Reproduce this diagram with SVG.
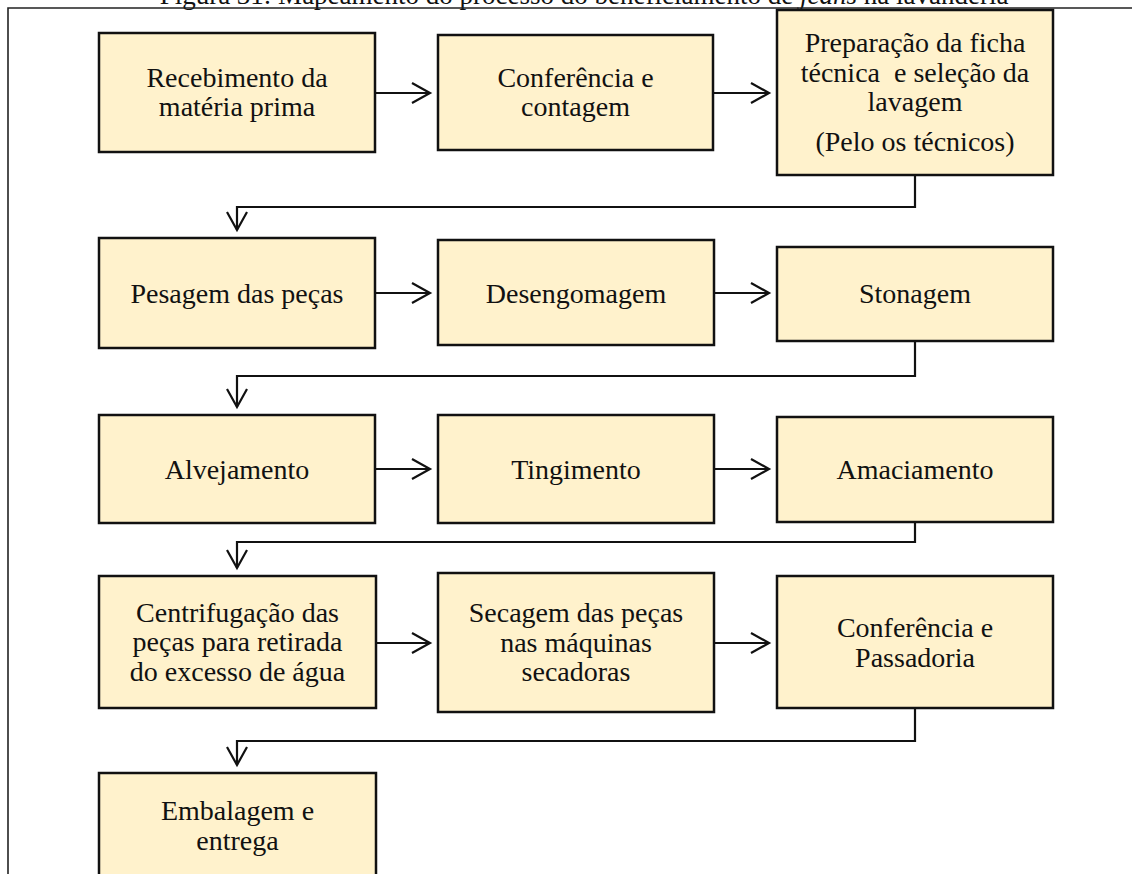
<svg xmlns="http://www.w3.org/2000/svg" width="1132" height="874" viewBox="0 0 1132 874">
<style>
.box{fill:#FFF2CC;stroke:#111;stroke-width:2.5}
.t{font-family:"Liberation Serif","Times New Roman",serif;font-size:28px;fill:#111;text-anchor:middle}
.c{fill:none;stroke:#111;stroke-width:2.2}
.frame{fill:none;stroke:#222;stroke-width:1.6}
</style>
<defs>
<marker id="ah" markerWidth="24" markerHeight="24" refX="20" refY="12" orient="auto" markerUnits="userSpaceOnUse">
<path d="M2,2 L20,12 L2,22" fill="none" stroke="#111" stroke-width="2.2"/>
</marker>
</defs>
<rect width="1132" height="874" fill="#fff"/>
<text class="t" x="584" y="4" style="font-size:27px">Figura 31: Mapeamento do processo do beneficiamento de <tspan font-style="italic">jeans</tspan> na lavanderia</text>
<path class="frame" d="M8,874 V8 H1132"/>

<g id="connectors">
<path class="c" d="M375,93 H430" marker-end="url(#ah)"/>
<path class="c" d="M713,93 H769" marker-end="url(#ah)"/>
<path class="c" d="M915,175 V207 H237 V230" marker-end="url(#ah)"/>
<path class="c" d="M375,293 H430" marker-end="url(#ah)"/>
<path class="c" d="M714,293 H769" marker-end="url(#ah)"/>
<path class="c" d="M915,341 V376 H237 V407" marker-end="url(#ah)"/>
<path class="c" d="M375,469 H430" marker-end="url(#ah)"/>
<path class="c" d="M714,469 H769" marker-end="url(#ah)"/>
<path class="c" d="M915,522 V542 H237 V568" marker-end="url(#ah)"/>
<path class="c" d="M376,643 H430" marker-end="url(#ah)"/>
<path class="c" d="M714,643 H769" marker-end="url(#ah)"/>
<path class="c" d="M915,708 V741 H237 V765" marker-end="url(#ah)"/>
</g>

<g id="n1"><rect class="box" x="99" y="33" width="276" height="119"/>
<text class="t" x="237" y="87">Recebimento da</text><text class="t" x="237" y="116">matéria prima</text></g>
<g id="n2"><rect class="box" x="438" y="35" width="275" height="115"/>
<text class="t" x="575.5" y="87">Conferência e</text><text class="t" x="575.5" y="116">contagem</text></g>
<g id="n3"><rect class="box" x="777" y="10" width="276" height="165"/>
<text class="t" x="915" y="52">Preparação da ficha</text><text class="t" x="915" y="82">técnica&#160; e seleção da</text><text class="t" x="915" y="111">lavagem</text><text class="t" x="915" y="151">(Pelo os técnicos)</text></g>

<g id="n4"><rect class="box" x="99" y="238" width="276" height="110"/>
<text class="t" x="237" y="303">Pesagem das peças</text></g>
<g id="n5"><rect class="box" x="438" y="240" width="276" height="105"/>
<text class="t" x="576" y="303">Desengomagem</text></g>
<g id="n6"><rect class="box" x="777" y="247" width="276" height="94"/>
<text class="t" x="915" y="303">Stonagem</text></g>

<g id="n7"><rect class="box" x="99" y="415" width="276" height="108"/>
<text class="t" x="237" y="479">Alvejamento</text></g>
<g id="n8"><rect class="box" x="438" y="415" width="276" height="108"/>
<text class="t" x="576" y="479">Tingimento</text></g>
<g id="n9"><rect class="box" x="777" y="417" width="276" height="105"/>
<text class="t" x="915" y="479">Amaciamento</text></g>

<g id="n10"><rect class="box" x="99" y="576" width="277" height="132"/>
<text class="t" x="237.5" y="622">Centrifugação das</text><text class="t" x="237.5" y="651">peças para retirada</text><text class="t" x="237.5" y="681">do excesso de água</text></g>
<g id="n11"><rect class="box" x="438" y="573" width="276" height="139"/>
<text class="t" x="576" y="622">Secagem das peças</text><text class="t" x="576" y="652">nas máquinas</text><text class="t" x="576" y="681">secadoras</text></g>
<g id="n12"><rect class="box" x="777" y="576" width="276" height="132"/>
<text class="t" x="915" y="637">Conferência e</text><text class="t" x="915" y="667">Passadoria</text></g>

<g id="n13"><rect class="box" x="99" y="773" width="277" height="120"/>
<text class="t" x="237.5" y="820">Embalagem e</text><text class="t" x="237.5" y="850">entrega</text></g>
</svg>
